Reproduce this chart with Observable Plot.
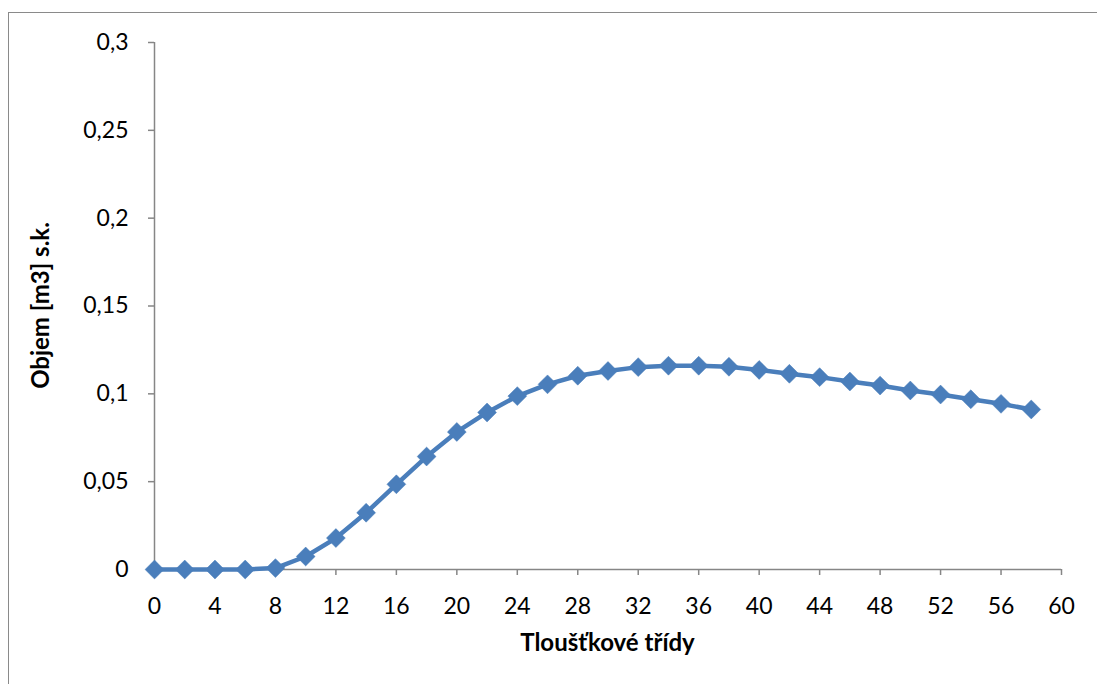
<!DOCTYPE html>
<html>
<head>
<meta charset="utf-8">
<script src="https://cdn.jsdelivr.net/npm/d3@7"></script>
<script src="https://cdn.jsdelivr.net/npm/@observablehq/plot@0.6"></script>
<style>
  html, body { margin: 0; padding: 0; background: #fff; }
  #wrap { position: relative; width: 1097px; height: 684px; overflow: hidden; }
  #frame { position: absolute; left: 8px; top: 12px; width: 1200px; height: 800px;
           border-left: 1.5px solid #8a8a8a; border-top: 1.5px solid #8a8a8a; }
  #chart { position: absolute; left: 0; top: 0; }
  svg { font-family: Lato, "Open Sans", sans-serif; }
</style>
</head>
<body>
<div id="wrap"><div id="frame"></div><div id="chart"></div></div>
<script>
// Thickness classes (cm) and mean stem volume (m3) per class
const tridy = [0, 2, 4, 6, 8, 10, 12, 14, 16, 18, 20, 22, 24, 26, 28,
               30, 32, 34, 36, 38, 40, 42, 44, 46, 48, 50, 52, 54, 56, 58];
const objem = [0, 0, 0, 0, 0.0008, 0.0074, 0.0179, 0.0323, 0.0485, 0.0643,
               0.0783, 0.0894, 0.0987, 0.1054, 0.1103, 0.1130, 0.1152, 0.1160,
               0.1160, 0.1154, 0.1136, 0.1114, 0.1095, 0.1070, 0.1047, 0.1019,
               0.0996, 0.0969, 0.0943, 0.0911];
const xTicks = [0, 4, 8, 12, 16, 20, 24, 28, 32, 36, 40, 44, 48, 52, 56, 60];
const yTicks = [0, 0.05, 0.1, 0.15, 0.2, 0.25, 0.3];
const xTitle = "Tloušťkové třídy";
const yTitle = "Objem [m3] s.k.";

const data = tridy.map((t, i) => ({t, v: objem[i]}));
const blue = "#4a7ebb";
const axisGray = "#868686";
const comma = d => String(d).replace(".", ",");

const chart = Plot.plot({
  width: 1097,
  height: 684,
  marginLeft: 154,
  marginRight: 36,
  marginTop: 42,
  marginBottom: 115,
  style: {fontSize: "23px", color: "#000", background: "transparent"},
  x: {domain: [0, 60]},
  y: {domain: [0, 0.3]},
  marks: [
    Plot.ruleX([0], {stroke: axisGray, strokeWidth: 1.5}),
    Plot.ruleY([0], {stroke: axisGray, strokeWidth: 1.5}),
    Plot.axisX({ticks: xTicks, tickFormat: comma, tickSize: 6, tickPadding: 22,
                stroke: axisGray, strokeWidth: 1.5, label: null}),
    Plot.axisY({ticks: yTicks, tickFormat: comma, tickSize: 6, tickPadding: 20,
                stroke: axisGray, strokeWidth: 1.5, label: null}),
    Plot.line(data, {x: "t", y: "v", stroke: blue, strokeWidth: 4.5}),
    Plot.dot(data, {x: "t", y: "v", symbol: "diamond2", r: 8.5, fill: blue, stroke: blue, strokeWidth: 0.5})
  ]
});

// Axis titles
const svg = d3.select(chart);
svg.append("text")
  .attr("x", (154 + 1061) / 2).attr("y", 651)
  .attr("text-anchor", "middle")
  .attr("font-weight", "bold").attr("font-size", 24)
  .text(xTitle);
svg.append("text")
  .attr("transform", `translate(49,${(42 + 569) / 2}) rotate(-90)`)
  .attr("text-anchor", "middle")
  .attr("font-weight", "bold").attr("font-size", 24)
  .text(yTitle);

document.getElementById("chart").append(chart);
</script>
</body>
</html>
